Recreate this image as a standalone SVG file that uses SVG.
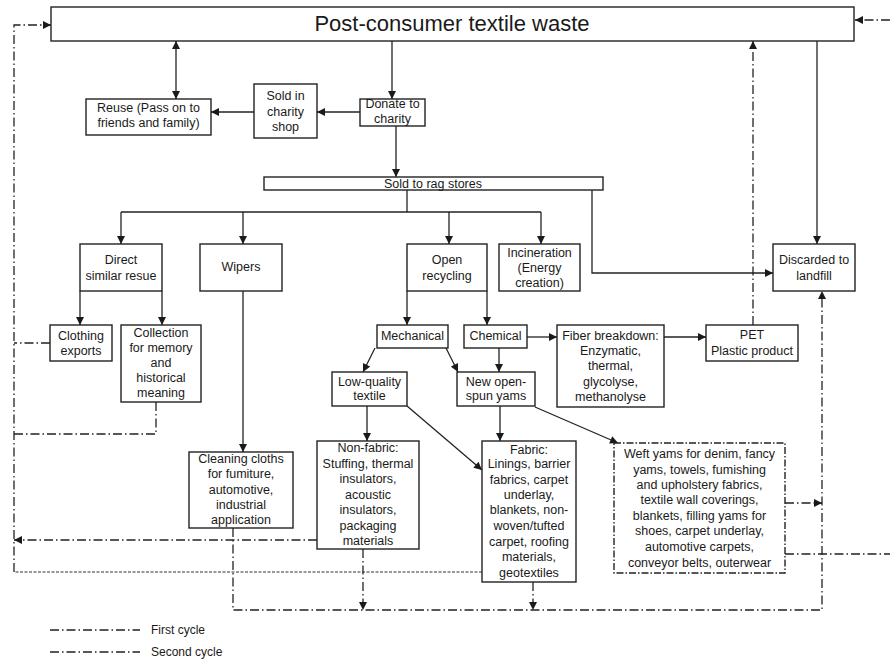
<svg xmlns="http://www.w3.org/2000/svg" width="890" height="660" viewBox="0 0 890 660">
  <defs>
    <marker id="arrow" viewBox="0 0 10 10" refX="10" refY="5" markerWidth="9" markerHeight="8" markerUnits="userSpaceOnUse" orient="auto-start-reverse">
      <path d="M0,0 L10,5 L0,10 z" fill="#1a1a1a"/>
    </marker>
    <style>
      .box { fill: #ffffff; stroke: #222; stroke-width: 1.4; }
      .dbox { fill: #ffffff; stroke: #222; stroke-width: 1.4; stroke-dasharray: 7 2 1.5 2; }
      text { font-family: "Liberation Sans", Arial, sans-serif; font-size: 12.5px; fill: #1a1a1a; text-anchor: middle; }
      .title { font-size: 22px; }
      .legend { text-anchor: start; font-size: 12px; }
      .solid { fill: none; stroke: #222; stroke-width: 1.3; }
      .cycle1 { fill: none; stroke: #222; stroke-width: 1.3; stroke-dasharray: 9 3 1.5 3; }
      .cycle2 { fill: none; stroke: #333; stroke-width: 1.2; stroke-dasharray: 3 1.5; }
    </style>
  </defs>
  <rect width="890" height="660" fill="#ffffff"/>

  <!-- connectors -->
  <g id="connectors">
    <!-- solid flows -->
    <path class="solid" d="M176,41 V99" marker-start="url(#arrow)" marker-end="url(#arrow)"/>
    <path class="solid" d="M392,41 V99" marker-end="url(#arrow)"/>
    <path class="solid" d="M360,112 H317" marker-end="url(#arrow)"/>
    <path class="solid" d="M254,112 H211" marker-end="url(#arrow)"/>
    <path class="solid" d="M396,126 V177" marker-end="url(#arrow)"/>
    <path class="solid" d="M407,190 V212"/>
    <path class="solid" d="M121,212 H541"/>
    <path class="solid" d="M121,212 V244" marker-end="url(#arrow)"/>
    <path class="solid" d="M243,212 V244" marker-end="url(#arrow)"/>
    <path class="solid" d="M449,212 V244" marker-end="url(#arrow)"/>
    <path class="solid" d="M541,212 V244" marker-end="url(#arrow)"/>
    <path class="solid" d="M592,190 V273 H773" marker-end="url(#arrow)"/>
    <path class="solid" d="M817,41 V244" marker-end="url(#arrow)"/>
    <path class="solid" d="M80,291 V325" marker-end="url(#arrow)"/>
    <path class="solid" d="M162,291 V325" marker-end="url(#arrow)"/>
    <path class="solid" d="M243,291 V452" marker-end="url(#arrow)"/>
    <path class="solid" d="M407,291 V325" marker-end="url(#arrow)"/>
    <path class="solid" d="M487,291 V325" marker-end="url(#arrow)"/>
    <path class="solid" d="M527,337 H557" marker-end="url(#arrow)"/>
    <path class="solid" d="M664,337 H706" marker-end="url(#arrow)"/>
    <path class="solid" d="M499,348 V372" marker-end="url(#arrow)"/>
    <path class="solid" d="M375,348 L363,372" marker-end="url(#arrow)"/>
    <path class="solid" d="M446,348 L458,372" marker-end="url(#arrow)"/>
    <path class="solid" d="M367,406 V441" marker-end="url(#arrow)"/>
    <path class="solid" d="M407,406 L482,470" marker-end="url(#arrow)"/>
    <path class="solid" d="M500,406 V441" marker-end="url(#arrow)"/>
    <path class="solid" d="M535,407 L618,443" marker-end="url(#arrow)"/>

    <!-- first cycle returns -->
    <path class="cycle1" d="M14,572 V25 H51" marker-end="url(#arrow)"/>
    <path class="cycle1" d="M50,343 H14"/>
    <path class="cycle1" d="M156,402 V434 H14"/>
    <path class="cycle1" d="M317,540 H14" marker-end="url(#arrow)"/>
    <path class="cycle1" d="M753,325 V41" marker-end="url(#arrow)"/>
    <path class="cycle1" d="M233,528 V610 H822 V291" marker-end="url(#arrow)"/>
    <path class="cycle1" d="M363,549 V610" marker-end="url(#arrow)"/>
    <path class="cycle1" d="M533,582 V610" marker-end="url(#arrow)"/>
    <path class="cycle1" d="M785,503 H822" marker-end="url(#arrow)"/>
    <path class="cycle1" d="M785,554 H890"/>
    <path class="cycle1" d="M890,20 H855" marker-end="url(#arrow)"/>

    <!-- second cycle return -->
    <path class="cycle2" d="M482,572 H14"/>
  </g>

  <!-- nodes -->
  <g id="waste">
    <rect class="box" x="51" y="7" width="803" height="34"/>
    <text class="title" x="452" y="31">Post-consumer textile waste</text>
  </g>
  <g id="reuse">
    <rect class="box" x="86" y="99" width="125" height="36"/>
    <text x="148.5" y="111.5">Reuse (Pass on to</text>
    <text x="148.5" y="126.5">friends and family)</text>
  </g>
  <g id="charity-shop">
    <rect class="box" x="254" y="84" width="63" height="54"/>
    <text x="285.5" y="99.5">Sold in</text>
    <text x="285.5" y="115.5">charity</text>
    <text x="285.5" y="131">shop</text>
  </g>
  <g id="donate">
    <rect class="box" x="360" y="99" width="65" height="27"/>
    <text x="392.5" y="108">Donate to</text>
    <text x="392.5" y="123">charity</text>
  </g>
  <g id="rag-stores">
    <rect class="box" x="264" y="177" width="339" height="13"/>
    <text x="433" y="187.5">Sold to rag stores</text>
  </g>
  <g id="direct-reuse">
    <rect class="box" x="80" y="244" width="82" height="47"/>
    <text x="121" y="264">Direct</text>
    <text x="121" y="280">similar resue</text>
  </g>
  <g id="wipers">
    <rect class="box" x="200" y="244" width="82" height="47"/>
    <text x="241" y="271">Wipers</text>
  </g>
  <g id="open-recycling">
    <rect class="box" x="407" y="244" width="80" height="47"/>
    <text x="447" y="264">Open</text>
    <text x="447" y="280">recycling</text>
  </g>
  <g id="incineration">
    <rect class="box" x="499" y="244" width="81" height="47"/>
    <text x="539.5" y="257">Incineration</text>
    <text x="539.5" y="272">(Energy</text>
    <text x="539.5" y="286.5">creation)</text>
  </g>
  <g id="landfill">
    <rect class="box" x="773" y="244" width="82" height="47"/>
    <text x="814" y="264">Discarded to</text>
    <text x="814" y="280">landfill</text>
  </g>
  <g id="clothing-exports">
    <rect class="box" x="50" y="325" width="62" height="36"/>
    <text x="81" y="339.5">Clothing</text>
    <text x="81" y="355">exports</text>
  </g>
  <g id="collection">
    <rect class="box" x="121" y="325" width="80" height="77"/>
    <text x="161" y="336.5">Collection</text>
    <text x="161" y="351.5">for memory</text>
    <text x="161" y="366.5">and</text>
    <text x="161" y="382">historical</text>
    <text x="161" y="397">meaning</text>
  </g>
  <g id="mechanical">
    <rect class="box" x="377" y="325" width="71" height="23"/>
    <text x="412.5" y="340">Mechanical</text>
  </g>
  <g id="chemical">
    <rect class="box" x="464" y="325" width="63" height="23"/>
    <text x="495.5" y="340">Chemical</text>
  </g>
  <g id="fiber-breakdown">
    <rect class="box" x="557" y="325" width="107" height="82"/>
    <text x="610.5" y="339.5">Fiber breakdown:</text>
    <text x="610.5" y="354.5">Enzymatic,</text>
    <text x="610.5" y="369.5">thermal,</text>
    <text x="610.5" y="386">glycolyse,</text>
    <text x="610.5" y="401">methanolyse</text>
  </g>
  <g id="pet">
    <rect class="box" x="706" y="325" width="92" height="36"/>
    <text x="752" y="338.5">PET</text>
    <text x="752" y="355">Plastic product</text>
  </g>
  <g id="low-quality">
    <rect class="box" x="332" y="372" width="75" height="34"/>
    <text x="369.5" y="385.5">Low-quality</text>
    <text x="369.5" y="400">textile</text>
  </g>
  <g id="open-spun">
    <rect class="box" x="457" y="372" width="78" height="34"/>
    <text x="496" y="385.5">New open-</text>
    <text x="496" y="400">spun yams</text>
  </g>
  <g id="cleaning-cloths">
    <rect class="box" x="189" y="452" width="104" height="76"/>
    <text x="241" y="462.5">Cleaning cloths</text>
    <text x="241" y="478">for fumiture,</text>
    <text x="241" y="493.5">automotive,</text>
    <text x="241" y="509">industrial</text>
    <text x="241" y="524">application</text>
  </g>
  <g id="non-fabric">
    <rect class="box" x="317" y="441" width="102" height="108"/>
    <text x="368" y="452">Non-fabric:</text>
    <text x="368" y="467.5">Stuffing, thermal</text>
    <text x="368" y="483">insulators,</text>
    <text x="368" y="499">acoustic</text>
    <text x="368" y="514">insulators,</text>
    <text x="368" y="530">packaging</text>
    <text x="368" y="545">materials</text>
  </g>
  <g id="fabric">
    <rect class="box" x="482" y="441" width="94" height="141"/>
    <text x="529" y="453.5">Fabric:</text>
    <text x="529" y="467.5">Linings, barrier</text>
    <text x="529" y="483.5">fabrics, carpet</text>
    <text x="529" y="499">underlay,</text>
    <text x="529" y="514">blankets, non-</text>
    <text x="529" y="530">woven/tufted</text>
    <text x="529" y="546">carpet, roofing</text>
    <text x="529" y="561">materials,</text>
    <text x="529" y="577">geotextiles</text>
  </g>
  <g id="weft-yarns">
    <rect class="dbox" x="614" y="443" width="171" height="130"/>
    <text x="699.5" y="457.5">Weft yams for denim, fancy</text>
    <text x="699.5" y="473.5">yams, towels, fumishing</text>
    <text x="699.5" y="489">and upholstery fabrics,</text>
    <text x="699.5" y="504">textile wall coverings,</text>
    <text x="699.5" y="520">blankets, filling yams for</text>
    <text x="699.5" y="535">shoes, carpet underlay,</text>
    <text x="699.5" y="551">automotive carpets,</text>
    <text x="699.5" y="566.5">conveyor belts, outerwear</text>
  </g>

  <!-- legend -->
  <g id="legend">
    <path class="cycle1" d="M50,630 H140"/>
    <text class="legend" x="151" y="634">First cycle</text>
    <path class="cycle1" d="M50,652 H140"/>
    <text class="legend" x="151" y="656">Second cycle</text>
  </g>
</svg>
